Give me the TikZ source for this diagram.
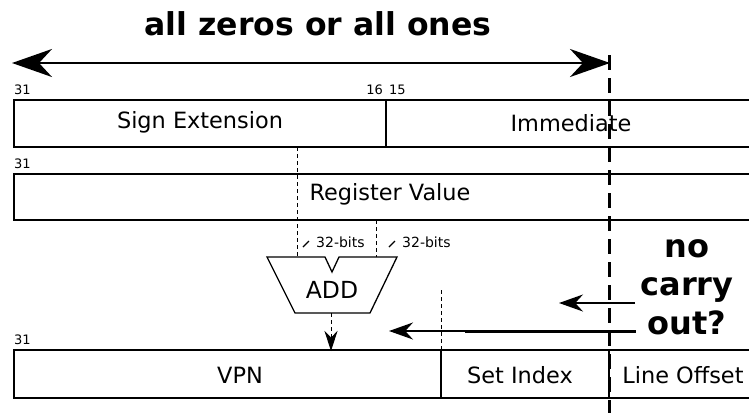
\documentclass[tikz,border=0pt]{standalone}
\usepackage{fontspec}
\setmainfont{DejaVu Sans}
\usetikzlibrary{arrows.meta}
\begin{document}
\begin{tikzpicture}[x=1pt,y=-1pt,
  field/.style={draw,line width=1.3pt},
  fieldtext/.style={font=\fontsize{22.4}{24}\selectfont,inner sep=0pt},
  bitnum/.style={font=\fontsize{13}{14}\selectfont,inner sep=0pt,anchor=base west},
  widthlbl/.style={font=\fontsize{14}{15}\selectfont,inner sep=0pt,anchor=west},
  bigtext/.style={font=\bfseries\fontsize{31.5}{38}\selectfont,inner sep=0pt},
  thindash/.style={draw,line width=1pt,dash pattern=on 4pt off 3pt},
  bigarrow/.style={line width=2.5pt,{Stealth[length=40pt,width=28pt]}-{Stealth[length=40pt,width=28pt]}},
  smallarrow/.style={line width=1.5pt,-{Stealth[length=24pt,width=17pt]}}]
\useasboundingbox (0,0) rectangle (749,413);
\clip (0,0) rectangle (749,413);

% heading and range arrow
\node[bigtext] (title) at (318,24) {all zeros or all ones};
\coordinate (rangeL) at (12,63);
\coordinate (rangeR) at (610,63);
\draw[bigarrow] (rangeL) -- (rangeR);

% sign-extended immediate
\node[bitnum] (n31a) at (14,94) {31};
\node[bitnum,anchor=base east] (n16) at (383,94) {16};
\node[bitnum] (n15) at (389,94) {15};
\draw[field] (14,100) rectangle (760,147);
\draw[field] (386,100) -- (386,147);
\node[fieldtext] (sext) at (200,122) {Sign Extension};
\node[fieldtext] (imm) at (571,123) {Immediate};

% register value
\node[bitnum] (n31b) at (14,168) {31};
\draw[field] (14,174) rectangle (760,220);
\node[fieldtext] (reg) at (390,194) {Register Value};

% adder
\draw[line width=1.3pt] (267,257) -- (325,257) -- (332,272) -- (339,257) -- (397,257)
  -- (370,313) -- (295,313) -- cycle;
\node[fieldtext,font=\fontsize{23.5}{25}\selectfont] (add) at (332,290) {ADD};
\coordinate (inA) at (297,257);
\coordinate (inB) at (376,257);
\coordinate (srcA) at (297,147);
\coordinate (srcB) at (376,220);
\draw[thindash] (srcA) -- (inA);
\draw[thindash] (srcB) -- (inB);
\draw[line width=1.3pt] (303,247) -- (309,241);
\node[widthlbl] (wa) at (316,242) {32-bits};
\draw[line width=1.3pt] (389,247) -- (395,241);
\node[widthlbl] (wb) at (402,242) {32-bits};
\coordinate (sumOut) at (331,313);
\coordinate (vpnIn) at (331,351);
\draw[line width=1pt,dash pattern=on 4pt off 3pt,-{Stealth[length=20pt,width=13pt]}] (sumOut) -- (vpnIn);

% virtual address fields
\node[bitnum] (n31c) at (14,344) {31};
\draw[field] (14,350) rectangle (760,398);
\draw[field] (441,350) -- (441,398);
\draw[field] (609,350) -- (609,398);
\node[fieldtext] (vpn) at (240,375) {VPN};
\node[fieldtext] (setidx) at (520,375) {Set Index};
\node[fieldtext] (lineoff) at (683,375) {Line Offset};
\draw[thindash] (441,290) -- (441,350);

% carry question
\node[bigtext,align=center,font=\bfseries\fontsize{32}{38.5}\selectfont] (carry) at (687,287) {no\\carry\\out?};
\coordinate (c1s) at (635,303);
\coordinate (c1e) at (559,303);
\coordinate (c2s) at (636,331);
\coordinate (c2e) at (389,331);
\draw[smallarrow] (c1s) -- (c1e);
\draw[smallarrow] (c2s) -- (c2e);
\draw[line width=3pt] (465,331) -- (c2s);

% boundary between offset and index bits
\draw[line width=3pt,dash pattern=on 15pt off 8pt] (609,55) -- (609,413);
\end{tikzpicture}
\end{document}
